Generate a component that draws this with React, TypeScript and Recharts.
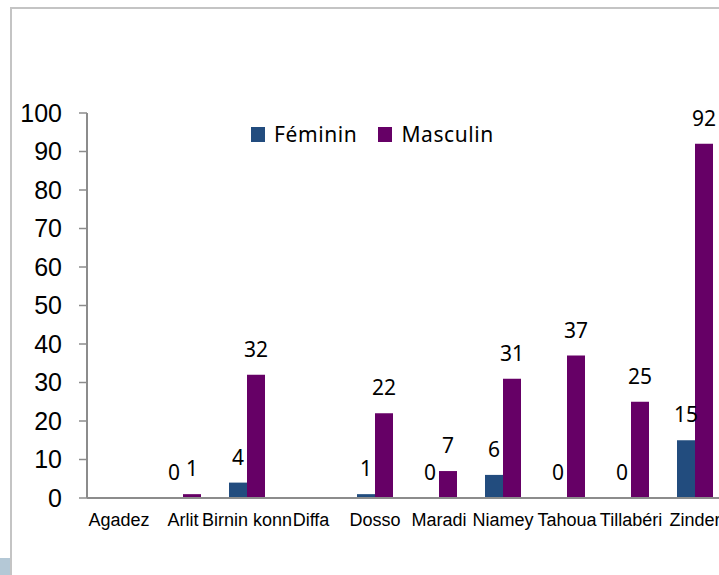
import React from "react";
import { BarChart, Bar, XAxis, YAxis, Legend, LabelList } from "recharts";

// regions (x axis labels as shown in the picture)
const regions = [
  "Agadez",
  "Arlit",
  "Birnin konn",
  "Diffa",
  "Dosso",
  "Maradi",
  "Niamey",
  "Tahoua",
  "Tillabéri",
  "Zinder",
];

const feminin = [null, 0, 4, null, 1, 0, 6, 0, 0, 15];
const masculin = [null, 1, 32, null, 22, 7, 31, 37, 25, 92];

const yTicks = [0, 10, 20, 30, 40, 50, 60, 70, 80, 90, 100];
const edgeTicks = [0, 1, 2, 3, 4, 5, 6, 7, 8, 9, 10];

const data = regions.map((name, i) => ({
  name,
  feminin: feminin[i],
  masculin: masculin[i],
}));

const BLUE = "#224C7E";
const PURPLE = "#660066";
const AXIS = "#8c8c8c";

// zero bars still need their "0" label, so give them a hairline height
const zeroHairline = (v: any) => (v === 0 ? 0.01 : 0);

const renderLegend = (props: any) => {
  const { payload } = props;
  return (
    <div style={{ display: "flex", alignItems: "center" }}>
      {payload.map((p: any) => (
        <div
          key={p.value}
          style={{ display: "flex", alignItems: "center", marginRight: 21 }}
        >
          <span
            style={{
              width: 14,
              height: 15,
              background: p.color,
              display: "inline-block",
              marginRight: 9,
            }}
          />
          <span
            style={{
              fontFamily: "'Noto Sans', sans-serif",
              fontSize: 21,
              color: "#000",
              letterSpacing: 0.6,
            }}
          >
            {p.value}
          </span>
        </div>
      ))}
    </div>
  );
};

export default function App() {
  return (
    <div
      style={{
        position: "absolute",
        left: 0,
        top: 0,
        width: 719,
        height: 575,
        overflow: "hidden",
        background: "#fff",
      }}
    >
      <div
        style={{
          position: "absolute",
          left: 10,
          top: 7,
          width: 740,
          height: 600,
          border: "2px solid #c4c4c4",
        }}
      />
      <div
        style={{
          position: "absolute",
          left: 0,
          top: 558,
          width: 10,
          height: 17,
          background: "#b4c8d6",
        }}
      />
      <BarChart
        width={740}
        height={575}
        data={data}
        barSize={18}
        barGap={0}
        margin={{ top: 113, right: 13, bottom: 37, left: 0 }}
        style={{ position: "absolute", left: 0, top: 0 }}
      >
        <XAxis
          xAxisId="edge"
          type="number"
          domain={[0, 10]}
          ticks={edgeTicks}
          allowDataOverflow
          height={0}
          axisLine={false}
          tickLine={{ stroke: AXIS, strokeWidth: 1.5 }}
          tickSize={6}
          tickFormatter={() => ""}
        />
        <XAxis
          dataKey="name"
          interval={0}
          height={40}
          axisLine={{ stroke: AXIS, strokeWidth: 2 }}
          tickLine={false}
          tickSize={0}
          tickMargin={15}
          tick={{
            fill: "#000",
            fontSize: 18,
            fontFamily: "'Liberation Sans', Arial, sans-serif",
          }}
        />
        <YAxis
          width={87}
          domain={[0, 100]}
          ticks={yTicks}
          interval={0}
          axisLine={{ stroke: AXIS, strokeWidth: 2 }}
          tickLine={{ stroke: AXIS, strokeWidth: 1.5 }}
          tickSize={8}
          tickMargin={17}
          tick={{
            fill: "#000",
            fontSize: 25,
            fontFamily: "'Liberation Sans', Arial, sans-serif",
          }}
        />
        <Legend
          layout="horizontal"
          verticalAlign="middle"
          align="center"
          content={renderLegend}
          wrapperStyle={{ top: 120, left: 251, width: "auto" }}
        />
        <Bar
          dataKey="feminin"
          name="Féminin"
          fill={BLUE}
          minPointSize={zeroHairline}
          isAnimationActive={false}
        >
          <LabelList
            dataKey="feminin"
            position="top"
            offset={18}
            fill="#000"
            fontSize={21}
            fontFamily="'Noto Sans', sans-serif"
          />
        </Bar>
        <Bar
          dataKey="masculin"
          name="Masculin"
          fill={PURPLE}
          minPointSize={zeroHairline}
          isAnimationActive={false}
        >
          <LabelList
            dataKey="masculin"
            position="top"
            offset={18}
            fill="#000"
            fontSize={21}
            fontFamily="'Noto Sans', sans-serif"
          />
        </Bar>
      </BarChart>
    </div>
  );
}
